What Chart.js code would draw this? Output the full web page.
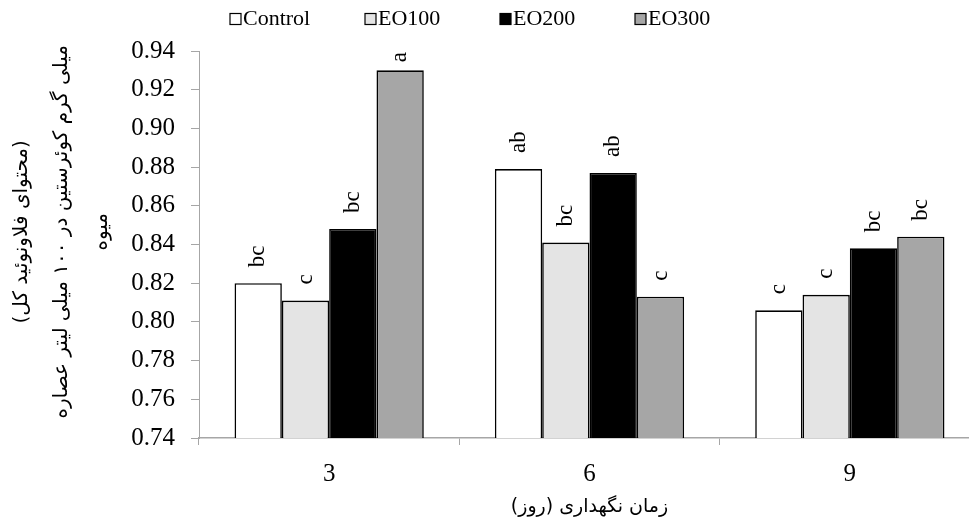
<!DOCTYPE html>
<html>
<head>
<meta charset="utf-8">
<script src="https://cdn.jsdelivr.net/npm/chart.js@4/dist/chart.umd.min.js"></script>
<style>
  html, body { margin: 0; padding: 0; background: #ffffff; overflow: hidden; }
  #wrap { width: 980px; height: 523px; position: relative; }
</style>
</head>
<body>
<div id="wrap"><canvas id="chart"></canvas></div>
<script>
// Storage time (days)
const days = ['3', '6', '9'];

// Series names and fills
const seriesNames = ['Control', 'EO100', 'EO200', 'EO300'];
const seriesFills = ['#ffffff', '#e4e4e4', '#000000', '#a6a6a6'];

// Total flavonoid content per treatment, one value per day
const control = [0.820, 0.879, 0.806];
const eo100   = [0.811, 0.841, 0.814];
const eo200   = [0.848, 0.877, 0.838];
const eo300   = [0.930, 0.813, 0.844];

// Significance letters written above each bar
const lettersControl = ['bc', 'ab', 'c'];
const lettersEO100   = ['c', 'bc', 'c'];
const lettersEO200   = ['bc', 'ab', 'bc'];
const lettersEO300   = ['a', 'c', 'bc'];

// Value axis ticks
const yTicks = [0.74, 0.76, 0.78, 0.80, 0.82, 0.84, 0.86, 0.88, 0.90, 0.92, 0.94];

// Right-to-left embedding so the Persian text and its brackets read correctly;
// the trailing no-break spaces lift the rotated title a little towards the top
const rtl = s => '\u202B' + s + '\u202C';
const lift = '\u00A0\u00A0\u00A0\u00A0';
const yTitleLines = [
  rtl('(محتوای فلاونوئید کل)' + lift),
  rtl('میلی گرم کوئرستین در ۱۰۰ میلی لیتر عصاره' + lift),
  rtl('میوه' + lift)
];
const xTitle = rtl('زمان نگهداری (روز)');

const serif = '"Liberation Serif", "Times New Roman", serif';
const axisGrey = '#a6a6a6';

const values = [control, eo100, eo200, eo300];
const letters = [lettersControl, lettersEO100, lettersEO200, lettersEO300];

const datasets = seriesNames.map((name, i) => ({
  label: name,
  data: values[i],
  letters: letters[i],
  backgroundColor: seriesFills[i],
  borderColor: '#000000',
  borderWidth: 1.6,
  borderSkipped: false,
  categoryPercentage: 0.727,
  barPercentage: 1.0
}));

// Rotated significance letters above the bars, kept inside the plot area
const letterPlugin = {
  id: 'barLetters',
  afterDatasetsDraw(chart) {
    const ctx = chart.ctx;
    const top = chart.chartArea.top;
    ctx.save();
    ctx.font = '23px ' + serif;
    ctx.fillStyle = '#000000';
    chart.data.datasets.forEach((ds, i) => {
      const meta = chart.getDatasetMeta(i);
      meta.data.forEach((bar, j) => {
        const txt = ds.letters[j];
        const w = ctx.measureText(txt).width;
        let start = bar.y - 16;
        if (start - w < top + 1) start = top + 1 + w;
        ctx.save();
        ctx.translate(bar.x, start);
        ctx.rotate(-Math.PI / 2);
        ctx.textAlign = 'left';
        ctx.textBaseline = 'middle';
        ctx.fillText(txt, 0, 0);
        ctx.restore();
      });
    });
    ctx.restore();
  }
};

// Compact legend row: small framed square right next to each name
const legendRow = {
  id: 'legendRow',
  afterDraw(chart) {
    const ctx = chart.ctx;
    const startX = 230, pitch = 135, cy = 19, box = 11;
    ctx.save();
    ctx.font = '22px ' + serif;
    ctx.textBaseline = 'middle';
    ctx.textAlign = 'left';
    chart.data.datasets.forEach((ds, i) => {
      const x = startX + i * pitch;
      ctx.fillStyle = ds.backgroundColor;
      ctx.fillRect(x, cy - box / 2, box, box);
      ctx.lineWidth = 1.2;
      ctx.strokeStyle = '#000000';
      ctx.strokeRect(x, cy - box / 2, box, box);
      ctx.fillStyle = '#000000';
      ctx.fillText(ds.label, x + box + 2, cy);
    });
    ctx.restore();
  }
};

new Chart(document.getElementById('chart'), {
  type: 'bar',
  data: { labels: days, datasets },
  plugins: [letterPlugin, legendRow],
  options: {
    responsive: true,
    maintainAspectRatio: false,
    animation: false,
    devicePixelRatio: 1,
    layout: { padding: { top: 51, right: 0, bottom: 0, left: 0 } },
    plugins: {
      legend: { display: false },
      tooltip: { enabled: false }
    },
    scales: {
      x: {
        afterFit(s) { s.height = 85; },
        grid: {
          offset: true,
          drawOnChartArea: false,
          drawTicks: true,
          tickLength: 7,
          tickColor: axisGrey,
          lineWidth: 1
        },
        border: { display: true, color: axisGrey, width: 1.5 },
        ticks: {
          color: '#000000',
          font: { family: serif, size: 25 },
          padding: 14
        },
        title: {
          display: true,
          text: xTitle,
          color: '#000000',
          font: { family: '"DejaVu Sans", sans-serif', size: 19 },
          padding: { top: 0, bottom: 5 }
        }
      },
      y: {
        min: 0.74,
        max: 0.94,
        afterFit(s) { s.width = 199; },
        afterBuildTicks(s) { s.ticks = yTicks.map(v => ({ value: v })); },
        grid: {
          drawOnChartArea: false,
          drawTicks: true,
          tickLength: 8,
          tickColor: axisGrey,
          lineWidth: 1
        },
        border: { display: true, color: axisGrey, width: 1 },
        ticks: {
          color: '#000000',
          font: { family: serif, size: 25 },
          padding: 16,
          callback: v => Number(v).toFixed(2)
        },
        title: {
          display: true,
          text: yTitleLines,
          color: '#000000',
          font: { family: '"DejaVu Sans", sans-serif', size: 20, lineHeight: 2.0 },
          padding: { top: 2, bottom: 0 }
        }
      }
    }
  }
});
</script>
</body>
</html>
